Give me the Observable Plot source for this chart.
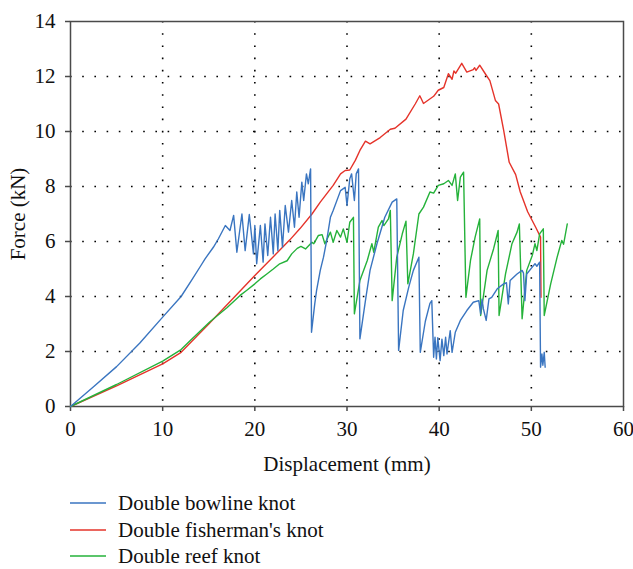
<!DOCTYPE html>
<html>
<head>
<meta charset="utf-8">
<script src="https://cdn.jsdelivr.net/npm/d3@7"></script>
<script src="https://cdn.jsdelivr.net/npm/@observablehq/plot@0.6"></script>
<style>
  body { margin: 0; background: #fff; }
  #legend { position: relative; height: 89px; font-family: "Liberation Serif", "Times New Roman", serif; font-size: 21px; color: #111; }
  .row { position: absolute; left: 70px; height: 26px; display: flex; align-items: center; }
  .row svg { margin-right: 12px; }
</style>
</head>
<body>
<div id="chart"></div>
<div id="legend"></div>
<script>
// Series names and colours
const seriesNames = ["Double bowline knot", "Double fisherman's knot", "Double reef knot"];
const seriesColors = ["#3a75c0", "#e5332a", "#25b23a"];

// Double bowline knot (blue): displacement (mm), force (kN)
const bowlineX = [0,2.5,5,7.5,10,12,13.2,14.1,14.6,15.5,16.05,16.8,17.3,17.7,18.05,18.6,18.95,19.4,19.85,20.0,20.2,20.6,20.9,21.1,21.4,21.7,22.0,22.2,22.5,22.7,23.0,23.3,23.65,24.0,24.3,24.55,24.8,25.1,25.3,25.6,25.8,26.05,26.15,26.5,26.7,27.1,27.45,27.8,28.2,28.5,29.3,29.8,30.0,30.3,30.5,30.8,31.0,31.25,31.4,32.0,32.5,33.25,34.1,34.9,35.4,35.6,36.1,36.7,37.2,37.8,37.95,38.5,39.0,39.2,39.4,39.55,39.7,39.85,40.1,40.3,40.5,40.7,40.85,41.2,41.4,41.75,42.3,43.0,43.7,44.3,44.5,44.65,44.8,45.1,45.4,45.7,46.3,47.0,47.3,47.5,47.7,48.45,49.0,49.15,49.3,49.5,50.1,50.4,50.6,50.9,51.0,51.15,51.25,51.4,51.5];
const bowlineY = [0,0.72,1.45,2.3,3.25,4.0,4.62,5.1,5.37,5.79,6.1,6.58,6.4,6.95,5.61,7.0,5.67,6.98,5.55,6.58,5.19,6.58,5.25,6.64,5.49,6.88,5.55,7.0,5.67,7.13,5.79,7.31,6.34,7.49,6.52,7.8,6.88,8.16,7.49,8.46,8.1,8.64,2.7,3.73,4.22,4.95,5.43,6.04,6.88,7.13,7.85,7.97,7.31,8.28,8.46,7.49,8.46,8.64,2.46,3.85,4.95,5.92,6.88,7.43,7.55,2.04,3.49,4.34,4.95,5.43,1.97,3.1,3.75,3.85,1.79,2.52,1.73,2.5,1.67,2.45,1.85,2.52,1.91,2.76,1.97,2.7,3.13,3.49,3.79,3.85,3.37,3.9,3.55,3.13,3.91,3.97,4.28,4.46,4.5,3.73,4.58,4.82,4.95,4.85,3.85,4.82,5.07,5.19,5.1,5.25,1.43,1.91,1.5,1.97,1.43];

// Double fisherman's knot (red)
const fishermanX = [0,5,10,12,15,20,23.8,24.9,26.2,27.1,28.5,29.3,29.8,30.3,30.9,31.4,32.0,32.5,33.6,34.7,35.2,36.4,37.4,37.9,38.3,39.4,39.9,40.5,41.0,41.4,41.6,41.8,42.45,43.0,43.7,43.85,44.0,44.4,45.0,45.5,46.1,46.45,47.0,47.6,48.3,48.8,49.6,50.5,51.0,51.05];
const fishermanY = [0,0.75,1.55,1.97,3.0,4.76,6.06,6.47,7.0,7.43,8.04,8.46,8.58,8.6,8.95,9.31,9.65,9.55,9.78,10.08,10.12,10.45,11.0,11.3,11.02,11.28,11.5,11.6,12.1,11.9,12.2,12.12,12.48,12.16,12.25,12.32,12.22,12.41,12.1,11.85,11.13,11.0,10.04,8.88,8.43,7.8,7.08,6.5,6.16,3.97];

// Double reef knot (green)
const reefX = [0,5,10,12,13,15.1,17,18.4,19.1,20.0,20.6,21.3,22.0,22.7,23.5,24.0,24.6,25.0,25.5,26.2,26.4,26.9,27.3,27.6,28.2,28.5,28.9,29.3,29.6,30.0,30.3,30.7,30.8,31.4,32.2,32.7,32.9,33.4,33.8,34.0,34.5,34.7,34.9,35.4,36.0,36.4,36.6,37.2,37.8,38.3,39.0,39.4,39.9,40.5,41.0,41.4,41.75,42.0,42.3,42.65,42.9,43.4,43.9,44.4,44.5,45.2,45.9,46.4,46.5,47.2,47.9,48.45,48.7,49.0,49.5,50.1,50.4,50.6,50.9,51.3,51.4,52.1,52.8,53.3,53.5,53.9];
const reefY = [0,0.8,1.65,2.07,2.4,3.07,3.6,4.04,4.22,4.46,4.64,4.82,5.0,5.19,5.3,5.55,5.75,5.82,5.73,5.97,5.92,6.22,6.25,5.92,6.34,5.97,6.4,6.16,6.46,5.97,6.7,6.88,3.37,4.58,5.31,5.92,5.61,6.52,6.76,6.58,6.82,7.13,3.85,5.43,6.28,6.74,4.46,5.55,7.0,7.25,7.8,7.76,8.04,8.1,8.22,8.04,8.46,7.49,8.34,8.52,3.97,5.31,6.16,6.82,3.31,4.95,5.73,6.4,3.31,4.82,5.92,6.34,6.64,3.19,4.95,5.49,5.92,5.67,6.28,6.46,3.31,4.46,5.43,6.04,5.9,6.64];

// Axis ticks
const xTicks = [0,10,20,30,40,50,60];
const yTicks = [0,2,4,6,8,10,12,14];
const xGrid = [10,20,30,40,50];
const yGrid = [2,4,6,8,10,12];

const toRows = (xs, ys, name) => xs.map((x, i) => ({x, y: ys[i], name}));
const bowline = toRows(bowlineX, bowlineY, seriesNames[0]);
const fisherman = toRows(fishermanX, fishermanY, seriesNames[1]);
const reef = toRows(reefX, reefY, seriesNames[2]);

const axisColor = "#4a4a4a";
const chart = Plot.plot({
  width: 633,
  height: 480,
  marginLeft: 70,
  marginRight: 10,
  marginTop: 21,
  marginBottom: 74,
  style: {fontFamily: "'Liberation Serif', 'Times New Roman', serif", fontSize: "19.5px", color: "#111", background: "#fff"},
  x: {domain: [0, 60]},
  y: {domain: [0, 14]},
  marks: [
    Plot.gridX(xGrid, {stroke: "#000", strokeOpacity: 1, strokeWidth: 1.6, strokeDasharray: "1.6,10.6"}),
    Plot.gridY(yGrid, {stroke: "#000", strokeOpacity: 1, strokeWidth: 1.6, strokeDasharray: "1.6,10.6"}),
    Plot.frame({stroke: axisColor, strokeWidth: 1.5}),
    Plot.axisX(xTicks, {tickSize: 5, tickPadding: 10, stroke: axisColor, strokeWidth: 1.5, label: "Displacement (mm)", labelAnchor: "center", labelArrow: "none", labelOffset: 64, fontSize: 21}),
    Plot.axisY(yTicks, {tickSize: 5, tickPadding: 10, stroke: axisColor, strokeWidth: 1.5, label: "Force (kN)", labelAnchor: "center", labelArrow: "none", labelOffset: 60, fontSize: 21}),
    Plot.line(fisherman, {x: "x", y: "y", stroke: seriesColors[1], strokeWidth: 1.4}),
    Plot.line(reef, {x: "x", y: "y", stroke: seriesColors[2], strokeWidth: 1.4}),
    Plot.line(bowline, {x: "x", y: "y", stroke: seriesColors[0], strokeWidth: 1.4})
  ]
});
document.getElementById("chart").appendChild(chart);

const legend = document.getElementById("legend");
const ns = "http://www.w3.org/2000/svg";
seriesNames.forEach((n, i) => {
  const row = document.createElement("div");
  row.className = "row";
  row.style.top = Math.round(10 + i * 26.5) + "px";
  const sw = document.createElementNS(ns, "svg");
  sw.setAttribute("width", "36");
  sw.setAttribute("height", "4");
  const ln = document.createElementNS(ns, "line");
  ln.setAttribute("x1", "0"); ln.setAttribute("x2", "36");
  ln.setAttribute("y1", "2"); ln.setAttribute("y2", "2");
  ln.setAttribute("stroke", seriesColors[i]);
  ln.setAttribute("stroke-width", "1.6");
  sw.appendChild(ln);
  const t = document.createElement("span");
  t.textContent = n;
  row.appendChild(sw);
  row.appendChild(t);
  legend.appendChild(row);
});
</script>
</body>
</html>
